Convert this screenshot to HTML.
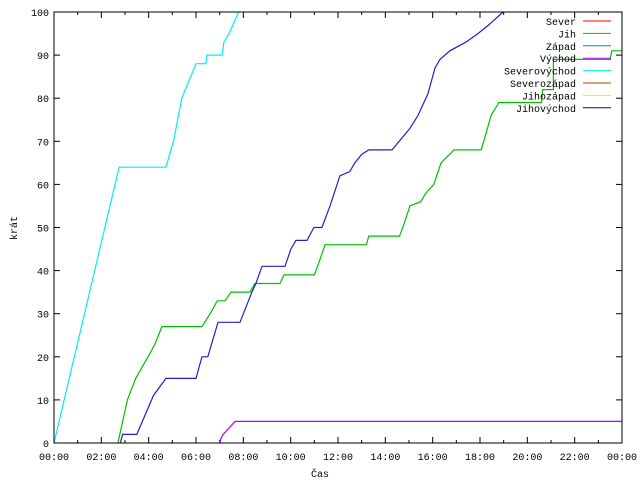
<!DOCTYPE html>
<html><head><meta charset="utf-8"><style>
html,body{margin:0;padding:0;background:#fff;}
svg{display:block;font-family:"Liberation Mono",monospace;font-size:10px;}
</style></head><body>
<svg id="chart" width="640" height="480" xmlns="http://www.w3.org/2000/svg">
<rect x="0" y="0" width="640" height="480" fill="#fff"/>
<g id="grid"></g>
<g id="series"></g>
<rect x="54" y="12" width="568" height="431" fill="none" stroke="#000" stroke-width="1"/>
<text x="320" y="477" text-anchor="middle">Čas</text>
<text x="17" y="228" text-anchor="middle" transform="rotate(-90 17 228)">krát</text>
<g id="legend"></g>
</svg>
<script>
const xTickLabels = ["00:00","02:00","04:00","06:00","08:00","10:00","12:00","14:00","16:00","18:00","20:00","22:00","00:00"];
const yTicks = [0,10,20,30,40,50,60,70,80,90,100];
const legendNames = ["Sever","Jih","Západ","Východ","Severovýchod","Severozápad","Jihozápad","Jihovýchod"];
const legendColors = ["#ff0000","#00c000","#0080ff","#c000ff","#00eeee","#c04000","#eeee00","#0000c0"];
// series: hours and counts
const jihHours = [2.7,3.1,3.45,3.97,4.27,4.56,6.25,6.6,6.9,7.22,7.48,8.28,8.49,9.55,9.72,11.0,11.2,11.45,13.2,13.3,14.6,14.8,15.04,15.5,15.72,16.05,16.35,16.9,18.05,18.26,18.47,18.8,20.6,20.65,21.1,21.1,23.5,23.57,24];
const jihValues = [0,10,15,20,23,27,27,30,33,33,35,35,37,37,39,39,42,46,46,48,48,51,55,56,58,60,65,68,68,72,76,79,79,82,82,89,89,91,91];
const zapadHours = [2.8,2.9,3.5,4.2,4.73,6.0,6.25,6.5,6.93,7.86,8.36,8.53,8.79,9.76,10.01,10.22,10.69,10.98,11.32,11.66,12.08,12.5,12.71,13.01,13.3,14.28,14.74,15.04,15.38,15.8,16.1,16.31,16.73,17.4,17.91,18.37,18.97];
const zapadValues = [0,2,2,11,15,15,20,20,28,28,35,37,41,41,45,47,47,50,50,55,62,63,65,67,68,68,71,73,76,81,87,89,91,93,95,97,100];
const vychodHours = [7.0,7.05,7.15,7.32,7.65,24];
const vychodValues = [0,1,2,3,5,5];
const svHours = [0,2.75,4.73,5.05,5.4,6.0,6.42,6.46,7.1,7.18,7.4,7.56,7.8];
const svValues = [0,64,64,70,80,88,88,90,90,93,95,97,100];

const X0=54,X1=622,Y0=443,Y1=12;
const xs=h=>X0+(X1-X0)*h/24;
const ys=v=>Y0-(Y0-Y1)*v/100;
const NS="http://www.w3.org/2000/svg";
const grid=document.getElementById('grid');
function mk(tag,attrs,parent){const e=document.createElementNS(NS,tag);for(const k in attrs)e.setAttribute(k,attrs[k]);parent.appendChild(e);return e;}
for(let h=0;h<=24;h++){
  const x=xs(h);
  const t1=mk('line',{x1:x,y1:Y0,x2:x,y2:Y0-(h%2?3:6),stroke:'#000'},grid);
  
  
  const t2=mk('line',{x1:x,y1:Y1,x2:x,y2:Y1+(h%2?3:6),stroke:'#000'},grid);
  
  
}
xTickLabels.forEach((l,i)=>{
  const t=mk('text',{x:xs(i*2),y:Y0+17,'text-anchor':'middle'},grid);t.textContent=l;
  
  
});
yTicks.forEach(v=>{
  const y=ys(v);
  const a=mk('line',{x1:X0,y1:y,x2:X0+6,y2:y,stroke:'#000'},grid);
  
  
  const b=mk('line',{x1:X1,y1:y,x2:X1-6,y2:y,stroke:'#000'},grid);
  
  
  const t=mk('text',{x:X0-5,y:y+4,'text-anchor':'end'},grid);t.textContent=v;
  
  
});
const ser=document.getElementById('series');
function draw(hs,vs,color,name){
  const pts=hs.map((h,i)=>xs(h).toFixed(1)+','+ys(Math.min(vs[i],100)).toFixed(1)).join(' ');
  const p=mk('polyline',{points:pts,fill:'none',stroke:color,'stroke-width':1.2},ser);
  
  
}
draw(svHours,svValues,'#00eeee','series-severovychod');
draw(jihHours,jihValues,'#00c000','series-jih');
draw(zapadHours,zapadValues,'#2020c8','series-zapad');
draw(vychodHours,vychodValues,'#b000ff','series-vychod');
const lg=document.getElementById('legend');
legendNames.forEach((n,i)=>{
  const y=21+i*12.4;
  const t=mk('text',{x:576,y:y+4,'text-anchor':'end'},lg);t.textContent=n;
  
  
  const l=mk('line',{x1:583,y1:y,x2:611,y2:y,stroke:legendColors[i]},lg);
  
  
});
</script>
</body></html>
